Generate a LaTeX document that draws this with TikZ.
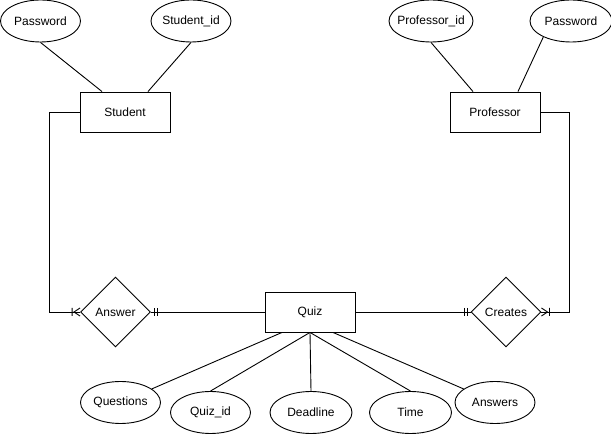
\documentclass[tikz,border=0pt]{standalone}
\usepackage{fontspec}
\setmainfont{Liberation Sans}
\usetikzlibrary{shapes.geometric}

% crow's foot with bar (one or many)
\pgfdeclarearrow{
  name = ermany,
  setup code = {
    \pgfarrowssettipend{0pt}
    \pgfarrowssetlineend{0pt}
    \pgfarrowssetbackend{-8pt}
    \pgfarrowssetvisualbackend{-8pt}
    \pgfarrowshullpoint{0pt}{4pt}
    \pgfarrowshullpoint{0pt}{-4pt}
    \pgfarrowshullpoint{-8pt}{4pt}
    \pgfarrowshullpoint{-8pt}{-4pt}
  },
  drawing code = {
    \pgfsetdash{}{0pt}
    \pgfpathmoveto{\pgfqpoint{0pt}{4pt}}
    \pgfpathlineto{\pgfqpoint{-6pt}{0pt}}
    \pgfpathlineto{\pgfqpoint{0pt}{-4pt}}
    \pgfpathmoveto{\pgfqpoint{-8pt}{4pt}}
    \pgfpathlineto{\pgfqpoint{-8pt}{-4pt}}
    \pgfusepathqstroke
  }
}
% two bars (one and only one)
\pgfdeclarearrow{
  name = erone,
  setup code = {
    \pgfarrowssettipend{0pt}
    \pgfarrowssetlineend{0pt}
    \pgfarrowssetbackend{-7pt}
    \pgfarrowssetvisualbackend{-7pt}
    \pgfarrowshullpoint{-3pt}{4pt}
    \pgfarrowshullpoint{-3pt}{-4pt}
    \pgfarrowshullpoint{-6pt}{4pt}
    \pgfarrowshullpoint{-6pt}{-4pt}
  },
  drawing code = {
    \pgfsetdash{}{0pt}
    \pgfpathmoveto{\pgfqpoint{-3pt}{4pt}}
    \pgfpathlineto{\pgfqpoint{-3pt}{-4pt}}
    \pgfpathmoveto{\pgfqpoint{-6pt}{4pt}}
    \pgfpathlineto{\pgfqpoint{-6pt}{-4pt}}
    \pgfusepathqstroke
  }
}

\newcommand{\attrtext}[1]{\makebox[0pt]{#1}}

\begin{document}
\begin{tikzpicture}[x=1pt, y=-1pt, line width=0.9pt,
		every node/.style={font=\fontsize{12}{14}\selectfont},
		entity/.style={draw, rectangle, minimum width=90pt, minimum height=40pt},
		attrib/.style={draw, ellipse, minimum width=80pt, minimum height=42pt, inner sep=0pt},
		rel/.style={draw, diamond, minimum size=70pt, inner sep=0pt}]
		\useasboundingbox (0,0) rectangle (611,435);

		% entities
		\node[entity] (student) at (125,112) {Student};
		\node[entity] (professor) at (495,112) {Professor};
		\node[entity] (quiz) at (310,312) {Quiz};

		% relationships
		\node[rel] (answer) at (115.5,312) {Answer};
		\node[rel] (creates) at (506,312) {Creates};

		% attributes
		\node[attrib] (studpwd) at (40.5,21) {\attrtext{Password}};
		\node[attrib] (studid) at (191,21) {\attrtext{Student\_id}};
		\node[attrib, minimum width=84pt] (profid) at (431,21) {\attrtext{Professor\_id}};
		\node[attrib, minimum width=82pt] (profpwd) at (571,21) {\attrtext{Password}};
		\node[attrib] (questions) at (120.5,402.5) {\attrtext{Questions}};
		\node[attrib] (quizid) at (210.5,412.5) {\attrtext{Quiz\_id}};
		\node[attrib, minimum width=82pt] (deadline) at (311,412.5) {\attrtext{Deadline}};
		\node[attrib, minimum width=82pt] (time) at (410.5,412.5) {\attrtext{Time}};
		\node[attrib] (answers) at (495,402.5) {\attrtext{Answers}};

		% attribute links
		\draw (studpwd.south) -- ([xshift=-23pt]student.north);
		\draw (studid.south) -- ([xshift=23pt]student.north);
		\draw (profid.south) -- ([xshift=-22pt]professor.north);
		\draw (profpwd.210) -- ([xshift=23pt]professor.north);
		\draw ([xshift=-28pt]quiz.south) -- (questions);
		\draw (quiz.south) -- (quizid.north);
		\draw (quiz.south) -- (deadline.north);
		\draw (quiz.south) -- (time.north);
		\draw ([xshift=23pt]quiz.south) -- (answers);

		% relationship links
		\draw[-ermany] (student.west) -- ++(-30,0) |- (answer.west);
		\draw[-erone] (quiz.west) -- (answer.east);
		\draw[-erone] (quiz.east) -- (creates.west);
		\draw[-ermany] (professor.east) -- ++(29,0) |- (creates.east);
	\end{tikzpicture}
\end{document}
